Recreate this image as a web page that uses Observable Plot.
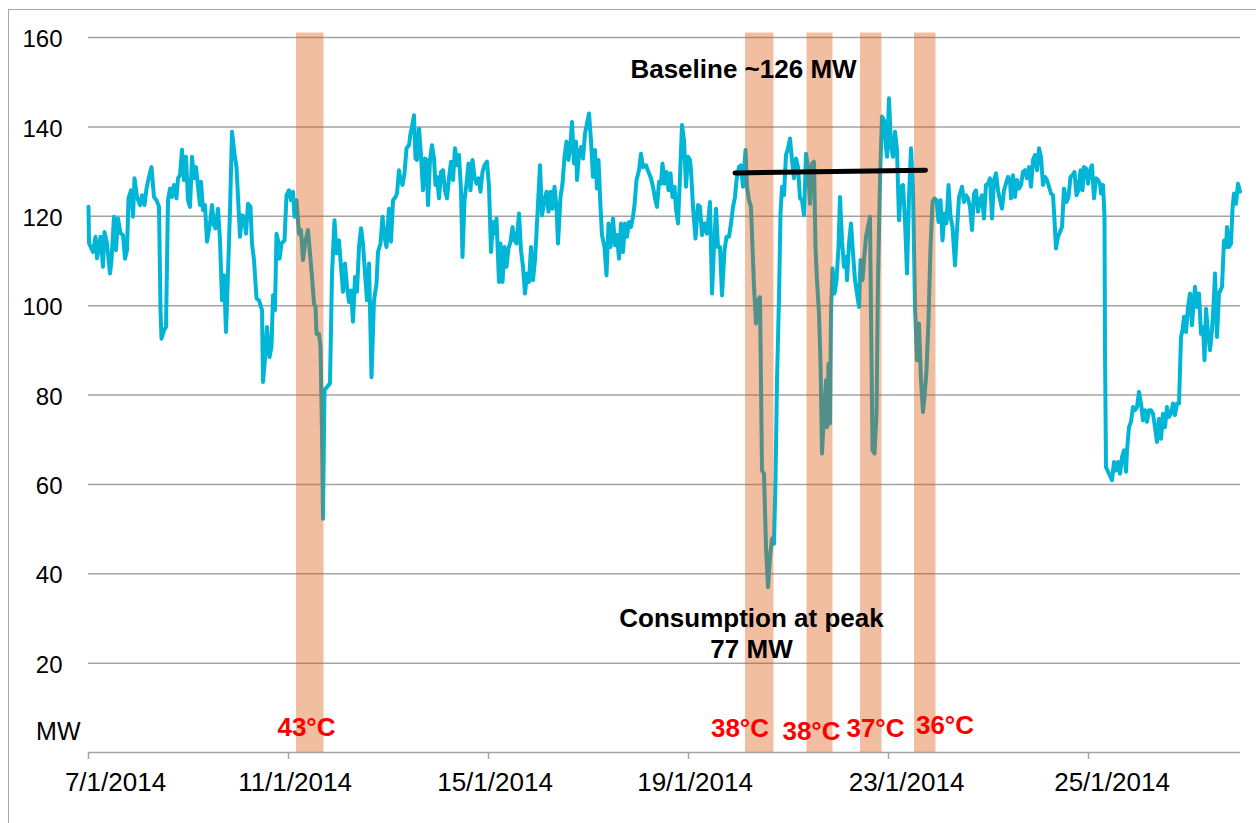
<!DOCTYPE html>
<html><head><meta charset="utf-8">
<script src="https://cdn.jsdelivr.net/npm/d3@7"></script>
<script src="https://cdn.jsdelivr.net/npm/@observablehq/plot@0.6"></script>
<style>
html,body{margin:0;padding:0;background:#fff;overflow:hidden;}
#wrap{position:relative;width:1256px;height:823px;overflow:hidden;}
#border{position:absolute;left:8px;top:9px;width:1300px;height:900px;border-left:1.5px solid #a6a6a6;border-top:1.5px solid #a6a6a6;pointer-events:none;}
</style></head><body><div id="wrap"><div id="chart"></div><div id="border"></div></div>
<script>
// Day offsets from 7/1/2014 (days) and consumption (MW)
const days = [
0.00,0.01,0.09,0.14,0.17,0.24,0.29,0.32,0.37,0.43,
0.46,0.51,0.55,0.59,0.64,0.69,0.73,0.77,0.80,0.85,
0.89,0.92,0.97,1.03,1.07,1.12,1.16,1.21,1.26,1.31,
1.36,1.41,1.44,1.46,1.51,1.55,1.59,1.63,1.67,1.71,
1.76,1.79,1.83,1.87,1.91,1.95,1.99,2.03,2.07,2.11,
2.15,2.19,2.23,2.25,2.29,2.33,2.37,2.43,2.47,2.51,
2.54,2.59,2.63,2.67,2.71,2.75,2.79,2.83,2.87,2.92,
2.96,2.99,3.03,3.07,3.11,3.15,3.19,3.24,3.27,3.31,
3.36,3.41,3.47,3.49,3.53,3.57,3.62,3.66,3.69,3.73,
3.76,3.79,3.82,3.86,3.92,3.96,4.01,4.05,4.09,4.12,
4.16,4.21,4.25,4.29,4.34,4.39,4.43,4.47,4.51,4.54,
4.56,4.59,4.61,4.64,4.67,4.69,4.72,4.77,4.83,4.87,
4.92,4.96,5.01,5.05,5.09,5.13,5.17,5.21,5.25,5.29,
5.33,5.37,5.41,5.45,5.49,5.53,5.57,5.61,5.66,5.71,
5.76,5.79,5.84,5.88,5.92,5.96,6.01,6.05,6.09,6.14,
6.17,6.21,6.24,6.28,6.32,6.36,6.41,6.44,6.47,6.51,
6.54,6.57,6.61,6.65,6.69,6.73,6.76,6.79,6.83,6.87,
6.91,6.94,6.97,7.01,7.05,7.09,7.13,7.17,7.21,7.25,
7.29,7.33,7.37,7.41,7.45,7.48,7.52,7.56,7.60,7.64,
7.68,7.72,7.76,7.80,7.84,7.88,7.92,7.97,8.01,8.05,
8.09,8.13,8.16,8.21,8.24,8.28,8.32,8.36,8.40,8.44,
8.48,8.52,8.56,8.61,8.65,8.69,8.73,8.77,8.81,8.85,
8.89,8.93,8.97,9.03,9.07,9.12,9.16,9.20,9.24,9.28,
9.32,9.36,9.39,9.44,9.48,9.52,9.56,9.60,9.64,9.67,
9.71,9.75,9.77,9.81,9.85,9.89,9.93,9.97,10.01,10.05,
10.09,10.13,10.17,10.20,10.24,10.27,10.32,10.36,10.40,10.44,
10.49,10.53,10.57,10.61,10.65,10.69,10.73,10.77,10.81,10.85,
10.89,10.92,10.96,11.01,11.05,11.09,11.15,11.20,11.25,11.29,
11.33,11.37,11.41,11.45,11.48,11.52,11.56,11.60,11.64,11.68,
11.72,11.75,11.79,11.83,11.87,11.91,11.95,11.99,12.03,12.05,
12.09,12.14,12.19,12.23,12.27,12.32,12.37,12.43,12.47,12.51,
12.55,12.59,12.63,12.67,12.72,12.76,12.81,12.85,12.89,12.93,
12.96,13.01,13.05,13.09,13.14,13.17,13.21,13.25,13.27,13.31,
13.35,13.39,13.43,13.47,13.51,13.55,13.59,13.63,13.67,13.71,
13.74,13.77,13.81,13.84,13.87,13.91,13.95,13.99,14.03,14.07,
14.11,14.15,14.19,14.23,14.27,14.31,14.35,14.39,14.43,14.47,
14.51,14.54,14.57,14.61,14.64,14.67,14.71,14.75,14.77,14.80,
14.83,14.85,14.88,14.92,14.96,15.00,15.03,15.07,15.11,15.15,
15.17,15.21,15.25,15.29,15.33,15.37,15.41,15.44,15.48,15.51,
15.55,15.59,15.63,15.65,15.68,15.72,15.76,15.79,15.83,15.87,
15.91,15.95,15.97,16.01,16.05,16.09,16.13,16.17,16.21,16.25,
16.29,16.33,16.37,16.41,16.45,16.49,16.53,16.57,16.61,16.65,
16.69,16.72,16.76,16.80,16.84,16.88,16.92,16.96,17.00,17.04,
17.08,17.12,17.16,17.20,17.24,17.28,17.33,17.37,17.41,17.47,
17.51,17.55,17.59,17.63,17.67,17.71,17.75,17.79,17.83,17.87,
17.91,17.95,17.99,18.03,18.07,18.11,18.15,18.19,18.23,18.27,
18.31,18.35,18.39,18.43,18.45,18.49,18.53,18.57,18.61,18.65,
18.69,18.73,18.77,18.81,18.85,18.89,18.93,18.97,19.01,19.05,
19.09,19.13,19.17,19.21,19.25,19.29,19.32,19.35,19.39,19.43,
19.47,19.51,19.56,19.60,19.64,19.68,19.72,19.76,19.80,19.84,
19.88,19.91,19.95,19.99,20.03,20.07,20.11,20.15,20.19,20.23,
20.25,20.29,20.32,20.33,20.35,20.39,20.43,20.47,20.51,20.55,
20.59,20.63,20.67,20.71,20.75,20.77,20.81,20.85,20.89,20.93,
20.97,21.01,21.05,21.09,21.13,21.17,21.21,21.25,21.29,21.33,
21.37,21.41,21.45,21.49,21.53,21.57,21.61,21.65,21.69,21.73,
21.77,21.81,21.85,21.88,21.91,21.95,21.99,22.03,22.07,22.11,
22.13,22.17,22.21,22.25,22.29,22.32,22.35,22.39,22.43,22.47,
22.51,22.53,22.57,22.61,22.67,22.71,22.75,22.77,22.81,22.85,
22.88,22.91,22.95,22.99,23.03
];
const mw = [
122.1,114,112,115.4,110.6,115.4,108.7,116.5,113.9,107.2,
110.2,119.9,112.4,119.5,116.2,115.8,110.5,112.4,124,125.8,
119.9,128.5,124.3,122.5,124.7,122.5,126.2,128.8,131,124.3,
123.6,122.1,99,92.6,94.5,95.2,123.6,126.2,124.3,127,
124,128.5,129.2,134.9,128.1,133.3,123.6,122.1,133.3,128.5,
131,126.6,122.5,127.7,121.4,122.5,114.3,118.4,122.5,118,
117.3,121.7,114.6,101.2,106.8,94.1,107.2,121.4,138.9,134,
131,124.3,115.4,120.2,119.9,116.1,122.8,122.1,113.9,110.2,
101.6,101.2,99,82.9,88.1,95.2,88.5,90.8,102.3,99,
116.1,114.6,110.5,113.9,114.6,124.7,125.8,123.6,125.5,119.9,
123.6,116.1,116.9,110.2,114.6,116.9,111.7,106.4,100.5,99.7,
93.7,93.4,93.7,90.8,71.4,52.3,81.1,81.8,82.6,107.2,
119.1,111.7,114.6,108.7,103.1,109.4,104.2,100.8,103.4,96.4,
106.4,103.1,113.1,117.3,113.9,107.2,101.2,109.4,84,101.2,
104.9,112,113.9,119.9,115.4,113.1,121.7,114.3,123.6,124.3,
125.1,130.3,128.1,127,129.6,135.2,135.9,138.5,140,142.6,
132.9,132.6,139.6,133.7,125.8,132.9,132.6,122.5,132.6,135.9,
132.9,127,128.8,124,129.9,130.3,125.8,124,128.5,132.2,
128.1,135.2,131.4,133.7,125.8,110.9,123.6,127.3,131.8,125.8,
132.6,128.8,127.3,128.5,125.5,129.9,131.4,132.2,126.6,112,
118.7,116.1,119.5,105.3,113.9,105.3,113.1,108.7,112.8,114.3,
117.6,114.6,113.9,120.6,112.4,108.7,102.7,107.2,105.3,113.1,
105.7,110.2,118.4,131.4,120.2,123.6,125.5,121,125.5,121.7,
126.6,122.1,113.9,124.3,127.3,133.3,136.7,132.6,136.3,141.1,
131.8,136.7,128.1,134,135.5,132.9,138.5,140.8,143,137,
128.8,134.8,126.2,132.6,122.1,115.8,113.1,106.8,118.4,113.1,
119.5,113.5,115.8,110.5,118.4,112,118.4,115.4,118.7,117.6,
119.9,122.5,128.1,130.3,134,131,131.4,129.9,128.5,126.6,
124,122.1,127.7,127.3,131.8,127.3,129.9,125.8,129.6,124.3,
126.6,121.7,118.4,128.8,140.4,137,126.6,133.3,132.6,130.3,
122.1,115,122.5,122.1,115.8,118.4,116.1,123.2,102.7,113.1,
121.7,113.1,113.1,102.3,112.4,115.4,115.4,118.4,122.1,124.3,
128.1,131,131.4,126.6,134.8,126.6,123.6,122.1,116.1,104.2,
96,101.2,101.9,63.1,62.4,46,37,43.7,47.9,46.7,
60.9,83.3,101.9,120.6,126.6,124.7,133.7,135.2,137.4,132.6,
128.5,132.9,131,124,123.6,120.2,134,131,122.8,131.8,
132.2,113.1,105.7,98.2,87,66.9,75.8,83.3,72.8,87,
73.6,98.2,108.3,102.7,105.7,113.1,124.3,114.6,108.7,110.9,
105.7,113.9,118.4,111.7,105.7,102.7,99.7,110.2,105.7,110.2,
115.4,117.6,119.9,98.2,67.6,66.9,75.8,105.7,128.1,142.3,
141.5,135.5,133.3,146.4,135.5,133.3,138.9,134.8,119.1,126.6,
127,119.1,107.2,124.3,135.2,125.8,99.7,87.8,96,83.3,
76.2,79.6,85.5,96.7,113.1,123.2,124,123.6,118.7,123.6,
114.6,120.6,118.4,127,119.9,117.6,109,116.9,124.3,126.6,
123.2,124.7,124,122.1,116.9,125.1,125.8,121,123.6,124.7,
119.5,127,127.3,128.5,119.5,128.1,129.6,125.8,123.6,121.7,
125.8,127.3,128.8,128.1,124,129.2,124.3,128.1,126.2,127,
129.9,130.3,128.5,131,126.6,132.6,133.7,130.3,135.2,133.3,
127,128.8,128.1,126.6,125.1,124.7,119.1,112.8,115.4,116.5,
117.6,126.2,123.2,124.3,128.8,129.2,129.9,124.7,125.8,130.3,
125.8,131,130.7,127.3,130.3,131.4,124,128.5,128.1,127.3,
125.1,127,119.9,90,63.9,62.8,62,60.9,65,63.1,
65,62.4,66.1,67.6,62.8,67.6,72.8,74,77.3,76.6,
77.3,80.7,78.1,74.3,76.6,74,76.6,76.6,75.8,72.8,
69.5,74.7,70.2,75.8,72.8,77.3,75.1,75.8,78.1,75.5,
78.1,78.1,93,94.5,97.5,94.1,99.7,102.7,95.6,101.9,
104.2,99.7,102.7,93.7,95.2,87.8,99.3,94.1,90,94.5,
101.9,107.2,93,102.7,104.2,114.6,113.1,117.6,113.1,113.9,
121.7,125.1,122.8,127.3,125.5
];

// X axis: tick days, tick labels, and the day each label is centred on (as in the original)
const xTickDays = [0, 4, 8, 12, 16, 20];
const xTickLabels = ["7/1/2014", "11/1/2014", "15/1/2014", "19/1/2014", "23/1/2014", "25/1/2014"];
const xLabelDays = [0.54, 4.13, 8.13, 12.13, 16.36, 20.47];
const yTicks = [20, 40, 60, 80, 100, 120, 140, 160];

// Heat-event bands (day offsets) and their temperature labels
const bandStart = [4.16, 13.14, 14.37, 15.44, 16.52];
const bandEnd   = [4.71, 13.71, 14.89, 15.87, 16.95];
const bandTop = 161;
const tempLabels = ["43°C", "38°C", "38°C", "37°C", "36°C"];
const tempLabelDay = [4.36, 13.03, 14.46, 15.74, 17.13];
const tempLabelMW = [3.8, 3.4, 2.8, 3.4, 4.2];

// Baseline segment
const baselineDay = [12.93, 16.74];
const baselineMW = [129.7, 130.3];

// Annotations
const noteText = ["Baseline ~126 MW", "Consumption at peak\n77 MW"];
const noteDay = [13.1, 13.26];
const noteMW = [150.9, 21.05];

const series = days.map((d, i) => ({day: d, mw: mw[i]}));
const bands = bandStart.map((s, i) => ({start: s, end: bandEnd[i], top: bandTop}));
const temps = tempLabels.map((t, i) => ({text: t, day: tempLabelDay[i], mw: tempLabelMW[i]}));
const baseline = baselineDay.map((d, i) => ({day: d, mw: baselineMW[i]}));
const notes = noteText.map((t, i) => ({text: t, day: noteDay[i], mw: noteMW[i]}));
const xLabels = xTickLabels.map((t, i) => ({text: t, day: xLabelDays[i]}));

const grey = "#a3a3a3";
const chart = Plot.plot({
  width: 1256, height: 823,
  marginLeft: 88, marginRight: 16, marginTop: 37, marginBottom: 71,
  style: {fontFamily: "'Liberation Sans', Arial, Helvetica, sans-serif", fontSize: "24px", color: "#000", background: "#fff", overflow: "visible"},
  x: {domain: [0, 23.04], label: null},
  y: {domain: [0, 160], label: null},
  marks: [
    Plot.gridY(yTicks, {stroke: grey, strokeOpacity: 1, strokeWidth: 1.5}),
    Plot.ruleY([0], {stroke: grey, strokeWidth: 1.5}),
    Plot.axisY(yTicks, {tickSize: 0, tickPadding: 26, dy: 2, label: null}),
    Plot.axisX(xTickDays, {tickSize: 7, stroke: grey, strokeWidth: 1.5, label: null, tickFormat: () => ""}),
    Plot.text(xLabels, {x: "day", y: 0, text: "text", fontSize: 26, lineAnchor: "top", dy: 20, fill: "#000"}),
    Plot.line(series, {x: "day", y: "mw", stroke: "#00b5d6", strokeWidth: 4, strokeLinejoin: "round", strokeLinecap: "round"}),
    Plot.rect(bands, {x1: "start", x2: "end", y1: 0, y2: "top", fill: "#d9550a", fillOpacity: 0.38}),
    Plot.line(baseline, {x: "day", y: "mw", stroke: "#000", strokeWidth: 5}),
    Plot.text(notes, {x: "day", y: "mw", text: "text", fontWeight: "bold", fontSize: 26, lineAnchor: "bottom", lineHeight: 1.22, fill: "#000"}),
    Plot.text(temps, {x: "day", y: "mw", text: "text", fontWeight: "bold", fontSize: 26, lineAnchor: "bottom", fill: "#ff0000"}),
    Plot.text(["MW"], {frameAnchor: "bottom-left", text: d => d, fontSize: 25, dx: -8, dy: -13, textAnchor: "end", lineAnchor: "bottom", fill: "#000"})
  ]
});
document.getElementById("chart").append(chart);
</script></body></html>
